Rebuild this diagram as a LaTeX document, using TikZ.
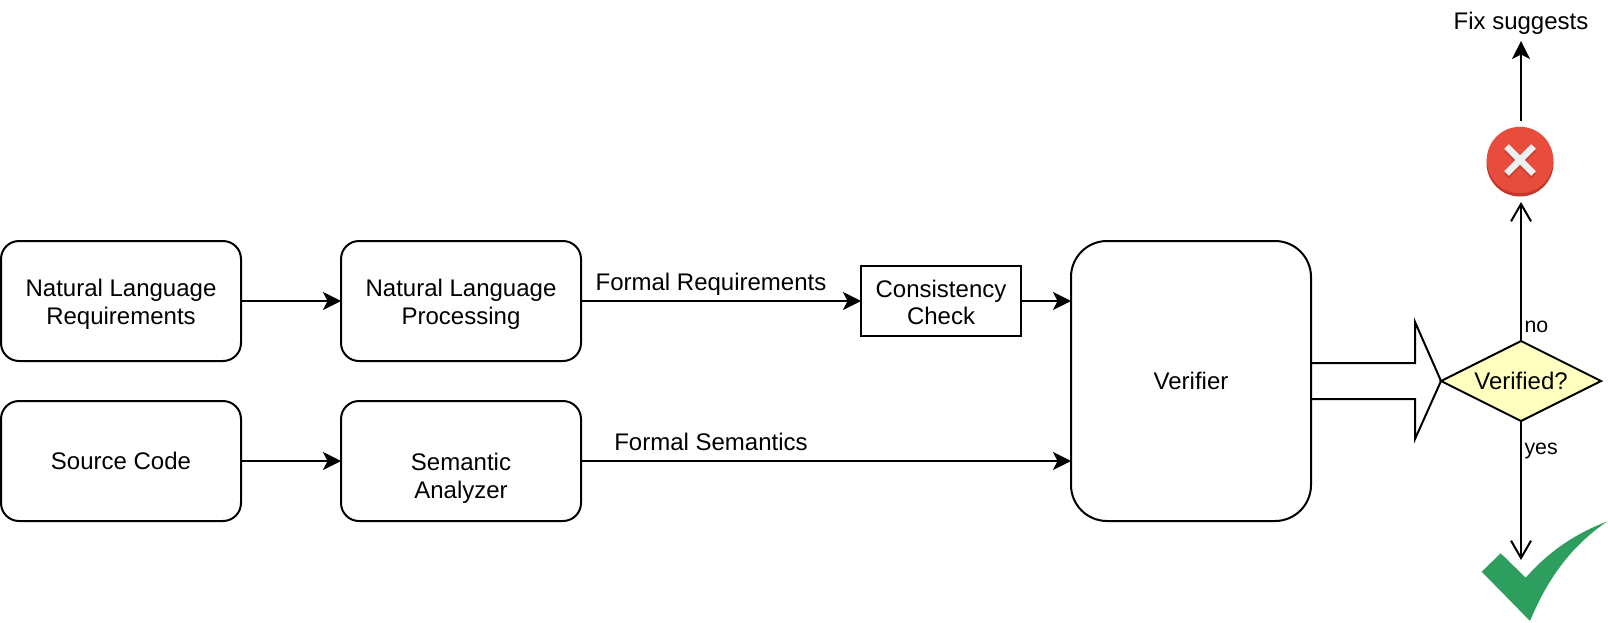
\documentclass[tikz,border=0pt]{standalone}
\usepackage{fontspec}
\setmainfont{Liberation Sans}
\usetikzlibrary{arrows.meta,shapes.geometric}
\definecolor{okgreen}{HTML}{2E9E5F}
\definecolor{failred}{HTML}{E74C3C}
\definecolor{faildark}{HTML}{C0392B}
\definecolor{crosswhite}{HTML}{ECF0F1}
\definecolor{crossshadow}{HTML}{C9402F}
\definecolor{diafill}{HTML}{FFFFC0}
\newcommand{\liftline}{\rule{0pt}{17.5pt}}
\tikzset{
  txt/.style={font=\fontsize{18}{20.8}\selectfont,align=center,inner sep=0pt,outer sep=0pt},
  smalltxt/.style={font=\fontsize{16}{19}\selectfont,inner sep=0pt},
  procbox/.style={txt,draw,rounded corners=13.5pt,minimum width=180pt,minimum height=90pt},
  checkbox/.style={txt,draw,minimum width=120pt,minimum height=52.5pt},
  verifierbox/.style={txt,draw,rounded corners=27pt,minimum width=180pt,minimum height=210pt},
  decisionbox/.style={txt,draw,diamond,aspect=2,fill=diafill,minimum width=120pt,minimum height=60pt},
  flow/.style={draw,-{Stealth[length=13.5pt,width=13.5pt,inset=3.4pt]}},
  openflow/.style={draw,-{Straight Barb[length=13pt,width=15pt]}},
}
\begin{document}
\begin{tikzpicture}[x=0.75pt,y=-0.75pt,line width=1.5pt]
\useasboundingbox (0,0) rectangle (1608,622);
% boxes
\node[procbox] (nlr) at (121,301) {\liftline Natural Language\\Requirements};
\node[procbox] (nlp) at (461,301) {\liftline Natural Language\\Processing};
\node[procbox] (src) at (121,461) {Source Code};
\node[procbox] (sem) at (461,461) {\rule{0pt}{18pt}\\Semantic\\Analyzer};
\node[checkbox] (cons) at (941,301) {\rule{0pt}{15pt}Consistency\\Check};
\node[verifierbox] (ver) at (1191,381) {Verifier};
\node[decisionbox] (dec) at (1521,381) {Verified?};
% fail icon
\node[circle,minimum size=50pt,inner sep=0pt] (fail) at (1520,161) {};
\fill[faildark] (1520,163) circle[radius=33.5];
\fill[failred] (1520,160) circle[radius=33.2];
\draw[crossshadow,line width=5pt] (1506.5,149) -- (1533.5,176) (1533.5,149) -- (1506.5,176);
\draw[crosswhite,line width=5pt] (1506.5,146.5) -- (1533.5,173.5) (1533.5,146.5) -- (1506.5,173.5);
% check mark
\fill[okgreen] (1481.7,571.7) -- (1500.7,553.3) -- (1525.7,577.7)
  .. controls (1550,550) and (1577,533) .. (1607,521.5)
  .. controls (1570,547) and (1547,580) .. (1530,621) -- cycle;
% big arrow
\coordinate (bigA) at (1311,363);
\coordinate (bigB) at (1415,363);
\coordinate (bigC) at (1415,322);
\coordinate (bigD) at (1415,439);
\coordinate (bigE) at (1415,399);
\coordinate (bigF) at (1311,399);
\draw[line join=miter] (bigA) -- (bigB) -- (bigC) -- (dec.west) -- (bigD) -- (bigE) -- (bigF);
% connectors
\draw[flow] (nlr.east) -- (nlp.west);
\draw[flow] (src.east) -- (sem.west);
\draw[flow] (nlp.east) -- (cons.west);
\draw[flow] (cons.east) -- (cons.east -| ver.west);
\draw[flow] (sem.east) -- (sem.east -| ver.west);
\coordinate (failin) at (1521,202);
\coordinate (failout) at (1521,121);
\coordinate (okin) at (1521,560);
\node[txt] (fix) at (1521,23) {Fix suggests};
\coordinate (fixin) at (1521,41);
\draw[openflow] (dec.north) -- (failin);
\draw[openflow] (dec.south) -- (okin);
\draw[flow] (failout) -- (fixin);
% labels
\node[txt] (lreq) at (711,284) {Formal Requirements};
\node[txt] (lsem) at (711,442) {Formal Semantics};
\node[smalltxt,anchor=west] (lno) at (1523.5,327) {no};
\node[smalltxt,anchor=west] (lyes) at (1523.5,451) {yes};
\end{tikzpicture}
\end{document}
